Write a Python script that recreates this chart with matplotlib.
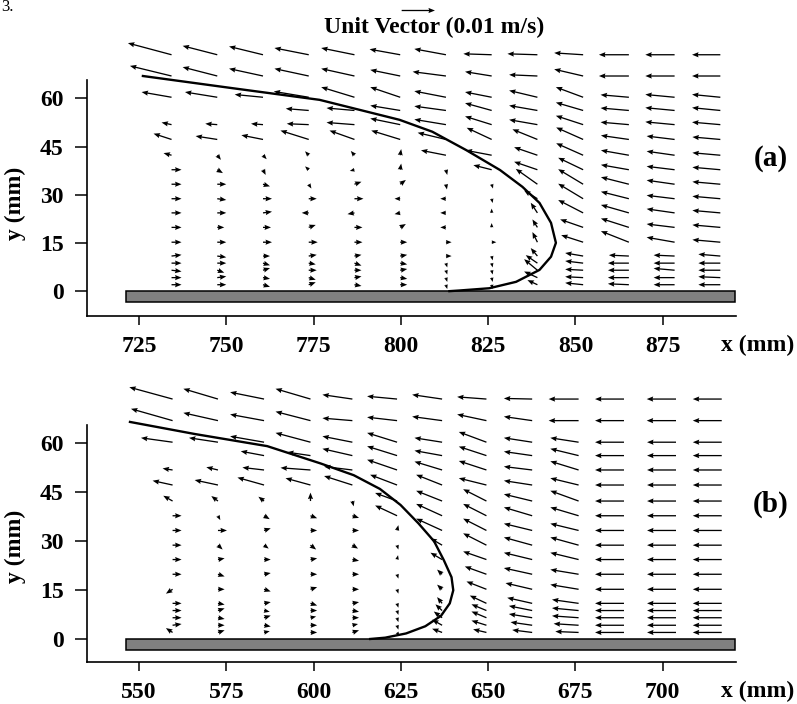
import numpy as np
import matplotlib
matplotlib.use("Agg")
import matplotlib.pyplot as plt
from matplotlib.patches import Rectangle

nan = np.nan

# measurement rows (mm above the wall), top to bottom
rows_y = [73.5, 66.9, 60.3, 56.2, 51.8, 47.2, 42.3, 37.8, 33.3, 28.8, 24.4,
          19.9, 15.3, 11.0, 8.8, 6.6, 4.3, 2.1]

# ---- panel (a) ---- velocities in mm/s
xa = [734.3, 747.4, 760.5, 773.6, 786.7, 799.8, 812.9, 826.0, 839.1, 852.2, 865.3, 878.4, 891.5]
ua = [
    [-13.1, -10.4, -10.2, -10.3, -10.0, -9.2, -9.5, -8.5, -9.0, -8.7, -9.0, -8.8, -8.5],
    [-12.5, -10.4, -10.2, -10.3, -10.0, -9.0, -10.0, -8.0, -8.5, -8.7, -9.0, -8.8, -8.5],
    [-9.0, -9.7, -8.5, -10.5, -10.0, -9.0, -9.5, -8.0, -8.5, -8.2, -8.5, -8.8, -8.5],
    [nan, nan, nan, -6.9, -8.4, -9.0, -9.5, -8.0, -8.5, -8.2, -8.5, -8.8, -8.5],
    [-3.0, -3.6, -3.6, -6.6, -8.4, -9.0, -9.5, -8.0, -8.5, -8.2, -8.5, -8.8, -8.5],
    [-5.4, -6.5, -6.5, -8.5, -7.5, -8.7, -8.5, -7.5, -7.5, -8.1, -8.4, -8.4, -8.4],
    [-2.4, 1.1, 1.1, -1.1, -1.1, 0.3, -7.5, -7.8, -7.0, -8.1, -8.4, -8.4, -8.4],
    [3.0, 1.7, 0.8, -1.1, -1.4, 0.3, 0.4, -5.5, -7.0, -7.5, -8.4, -8.4, -8.4],
    [3.0, 2.7, 2.1, 0.8, 2.1, 1.7, 0.3, 0.4, -6.5, -7.5, -8.4, -8.4, -8.4],
    [3.0, 2.7, 2.7, 2.4, 2.7, -1.7, -1.7, 0.3, -4.0, -7.5, -8.4, -8.4, -8.4],
    [3.0, 2.7, 2.7, -2.1, -2.1, -1.7, -1.7, 0.0, -2.0, -7.5, -8.4, -8.4, -8.4],
    [3.0, 2.1, 2.4, 2.1, 2.4, 1.7, -1.7, 0.0, -1.5, -6.9, -8.4, -8.4, -8.4],
    [3.0, 2.7, 2.7, 2.7, 2.4, 2.1, 1.7, 1.4, -1.5, -6.6, -8.4, -8.4, -8.4],
    [3.0, 2.7, 2.1, 2.4, 2.1, 2.1, 1.7, 0.3, -2.0, -5.4, -6.0, -6.3, -6.6],
    [3.0, 2.7, 2.1, 2.1, 2.1, 2.1, 0.4, 0.3, -3.5, -5.4, -6.3, -6.3, -6.6],
    [3.0, 2.1, 2.1, 2.4, 2.1, 2.1, 0.4, 0.3, -4.0, -5.4, -6.3, -6.3, -6.6],
    [3.0, 2.7, 2.1, 2.1, 2.1, 2.1, 0.4, 0.3, -4.0, -5.4, -6.3, -6.3, -6.6],
    [3.0, 2.7, 2.1, 2.1, 2.1, 2.1, 0.4, 0.3, -3.0, -5.4, -6.3, -6.3, -6.6],
]
va = [
    [3.8, 2.9, 2.7, 2.2, 2.2, 1.8, 1.9, 0.3, 0.3, 0.6, 0.0, 0.0, 0.0],
    [3.3, 2.9, 2.4, 2.4, 2.4, 2.0, 1.4, 1.4, 0.4, 2.2, 0.0, 0.0, 0.0],
    [1.7, 1.7, 0.9, 1.9, 3.3, 3.3, 2.0, 1.7, 2.2, 3.3, 0.8, 0.9, 0.9],
    [nan, nan, nan, 0.6, 0.8, 1.6, 1.4, 2.4, 1.6, 2.6, 0.8, 0.9, 0.9],
    [0.7, 0.3, 0.3, 0.3, 0.7, 2.0, 1.7, 2.7, 1.6, 2.9, 0.8, 0.9, 0.8],
    [1.9, 1.1, 1.4, 2.9, 2.9, 2.9, 2.2, 3.8, 3.3, 3.9, 1.3, 1.1, 0.8],
    [0.7, -1.5, -1.3, 1.3, 1.4, 2.0, 1.6, 1.6, 2.6, 3.9, 1.6, 1.3, 0.8],
    [0.0, -1.1, -1.7, 1.1, -0.4, 2.0, -1.7, 1.5, 2.6, 3.9, 1.6, 1.1, 0.8],
    [0.0, 0.0, -0.7, -1.4, 0.8, 1.4, -1.7, -1.4, 5.0, 4.9, 2.3, 1.3, 0.8],
    [0.0, -0.4, 0.0, 0.0, 0.0, 0.0, 0.0, -1.4, 2.7, 4.9, 2.3, 1.1, 0.8],
    [0.0, 0.0, 0.4, 0.0, -0.4, -0.4, 0.0, 1.4, 3.3, 4.2, 2.6, 1.3, 0.8],
    [0.0, 0.0, 0.0, 0.8, 0.0, 1.1, 0.0, 1.4, 2.6, 2.6, 2.9, 1.1, 0.8],
    [0.0, 0.0, 0.0, 0.0, 0.0, 0.0, 0.0, 0.0, 3.3, 2.3, 3.6, 1.6, 0.8],
    [0.4, -0.4, 0.0, 0.4, 0.4, 0.4, 0.0, -1.4, 2.6, 1.0, 0.3, 0.3, 0.6],
    [0.0, 0.0, -0.7, -0.4, -0.8, -0.4, -1.4, -1.4, 2.6, 0.7, 0.0, 0.0, 0.0],
    [-0.4, -0.8, 0.7, 0.0, 0.0, 0.4, -1.4, -1.4, 3.6, 0.3, 0.0, 0.6, 0.0],
    [0.0, 0.4, -0.4, -0.7, 0.4, -0.4, -1.4, -1.4, 2.0, 0.3, 0.0, 0.0, 0.3],
    [0.0, 0.0, -0.7, 0.8, -0.4, 0.0, -1.4, -1.4, 1.5, 0.6, 0.3, 0.0, 0.0],
]
curve_ax = [726.1, 751.9, 776.7, 799.6, 809.0, 818.7, 828.4, 834.8, 839.7, 843.0,
            844.4, 843.0, 839.7, 833.0, 825.3, 816.7, 813.9]
curve_ay = [66.9, 63.1, 59.5, 53.3, 49.6, 43.9, 37.7, 32.5, 27.5, 21.3,
            15.1, 10.8, 6.7, 3.0, 1.0, 0.3, 0.1]
xticks_a = [725, 750, 775, 800, 825, 850, 875]

# ---- panel (b) ----
xb = [559.6, 572.6, 585.8, 599.1, 611.1, 623.9, 636.8, 649.5, 662.6, 675.9, 688.9, 703.8, 716.9]
ub = [
    [-13.0, -10.4, -10.2, -10.5, -9.0, -9.0, -9.0, -8.8, -8.5, -9.0, -8.7, -8.8, -8.7],
    [-12.5, -10.4, -10.2, -10.5, -9.0, -9.0, -9.0, -8.8, -8.5, -9.0, -8.7, -8.8, -8.7],
    [-9.5, -8.7, -10.2, -10.5, -9.0, -9.0, -8.3, -8.3, -8.5, -8.5, -8.7, -8.7, -8.7],
    [nan, nan, -7.0, -7.0, -9.0, -9.0, -8.3, -8.3, -8.5, -8.5, -8.7, -8.7, -8.7],
    [-3.0, -3.5, -6.5, -9.0, -8.5, -9.0, -8.3, -8.3, -8.5, -8.5, -8.7, -8.7, -8.7],
    [-6.0, -7.0, -8.0, -7.5, -8.5, -8.1, -7.8, -8.3, -8.5, -8.5, -8.7, -8.7, -8.7],
    [-2.8, -2.0, -1.7, 0.0, 0.4, -6.6, -7.8, -7.0, -8.5, -8.5, -8.7, -8.7, -8.7],
    [2.7, 0.7, 1.7, 2.0, 2.0, -6.6, -7.8, -7.0, -8.5, -8.5, -8.7, -8.7, -8.7],
    [2.7, 2.7, 2.0, 2.0, 2.0, 0.4, -7.8, -7.0, -8.5, -8.5, -8.7, -8.7, -8.7],
    [2.7, 1.4, 1.4, 1.7, 1.7, 0.4, -3.5, -7.0, -8.5, -8.5, -8.7, -8.7, -8.7],
    [2.7, 2.0, 2.0, 2.0, 2.0, 0.3, -3.5, -7.0, -8.5, -8.5, -8.7, -8.7, -8.7],
    [2.7, 2.0, 2.0, 2.0, 2.0, 0.4, -1.5, -6.5, -8.5, -8.5, -8.7, -8.7, -8.7],
    [-2.0, 2.0, 2.0, 2.0, 2.0, 0.4, -1.5, -6.0, -8.0, -8.5, -8.7, -8.7, -8.7],
    [2.7, 2.0, 2.0, 2.0, 2.0, 0.4, -1.5, -5.0, -7.5, -8.0, -8.7, -8.7, -8.7],
    [2.7, 2.0, 1.7, 2.0, 2.0, 0.4, -2.0, -4.5, -7.0, -8.0, -8.7, -8.7, -8.7],
    [2.7, 2.0, 2.0, 1.7, 2.0, 0.4, -2.5, -4.5, -7.0, -8.0, -8.7, -8.7, -8.7],
    [2.7, 2.0, 2.0, 2.0, 1.7, 0.4, -3.0, -4.5, -6.5, -7.5, -8.7, -8.7, -8.7],
    [-2.0, 2.0, 1.7, 2.0, 2.0, 0.7, -3.0, -4.0, -6.0, -7.0, -8.7, -8.7, -8.7],
]
vb = [
    [3.8, 3.3, 2.2, 3.3, 1.4, 0.9, 1.4, 0.7, 0.2, 0.0, 0.0, 0.0, 0.0],
    [3.8, 2.5, 2.0, 2.9, 0.8, 1.1, 1.3, 2.0, 1.3, 0.0, 0.0, 0.0, 0.0],
    [1.4, 1.4, 1.9, 3.0, 1.9, 3.0, 1.4, 3.3, 1.4, 1.4, 0.0, 0.0, 0.0],
    [nan, nan, 1.4, 1.1, 2.2, 3.0, 1.6, 2.9, 1.3, 2.2, 0.0, 0.0, 0.0],
    [0.5, 0.9, 0.8, 0.7, 1.1, 3.3, 2.7, 2.9, 1.1, 2.8, 0.0, 0.0, 0.0],
    [1.4, 1.6, 2.4, 2.2, 2.9, 3.3, 3.3, 2.2, 1.4, 2.2, 0.0, 0.0, 0.0],
    [1.7, 1.6, 1.4, 2.7, -1.7, 2.6, 3.3, 3.8, 2.2, 3.3, 0.0, 0.0, 0.0],
    [0.0, -1.4, -1.1, -0.8, -0.7, 3.3, 3.8, 3.8, 2.7, 2.7, 0.0, 0.0, 0.0],
    [0.0, 0.0, 0.7, 0.0, 0.0, 1.7, 3.8, 3.8, 2.2, 2.2, 0.0, 0.0, 0.0],
    [0.0, -1.4, -1.1, -1.4, -1.1, -1.4, 2.2, 3.8, 2.5, 2.5, 0.0, 0.0, 0.0],
    [0.0, 0.4, 0.0, 0.4, -0.4, 1.4, 2.2, 2.6, 2.2, 2.2, 0.0, 0.0, 0.0],
    [0.0, -0.7, 0.4, 0.0, 0.0, -1.4, 1.5, 2.5, 2.0, 1.5, 0.0, 0.0, 0.0],
    [-1.4, 0.0, -0.7, 0.7, 0.0, -1.4, 1.5, 2.5, 2.0, 1.5, 0.0, 0.0, 0.0],
    [0.0, -0.4, 0.4, -0.7, 0.4, -1.4, 2.0, 2.5, 1.8, 1.2, 0.0, 0.0, 0.0],
    [0.0, 0.7, -0.4, 0.0, -0.4, -1.4, 2.0, 2.0, 1.5, 0.8, 0.0, 0.0, 0.0],
    [0.0, -0.4, 0.7, 0.4, 0.0, -1.4, 2.0, 2.0, 1.2, 0.6, 0.0, 0.0, 0.0],
    [0.4, 0.0, -0.4, 0.0, 0.4, -1.4, 1.8, 1.5, 1.0, 0.5, 0.0, 0.0, 0.0],
    [1.4, 0.7, 0.4, 0.0, 0.7, -1.1, 1.2, 1.0, 0.8, 0.3, 0.0, 0.0, 0.0],
]
curve_bx = [547.4, 566.0, 586.7, 602.0, 611.5, 619.0, 624.9, 630.0, 634.5, 637.3,
            639.5, 640.0, 639.0, 636.5, 632.0, 626.5, 620.5, 616.2]
curve_by = [66.5, 62.8, 59.1, 53.8, 50.2, 46.0, 41.1, 35.5, 30.0, 24.2,
            19.0, 15.0, 11.0, 7.2, 4.0, 1.8, 0.5, 0.1]
xticks_b = [550, 575, 600, 625, 650, 675, 700]
yticks = [0, 15, 30, 45, 60]

plt.rcParams['font.family'] = ['Liberation Serif', 'DejaVu Serif']
plt.rcParams['font.weight'] = 'bold'
FS = 17

fig = plt.figure(figsize=(7.97, 7.04), dpi=100)
W, H = 797.0, 704.0


def panel(rect_px, xlim, ylim, xs, U, V, cx, cy, wall, xticks, tag, spine_top, ylab_y):
    left, right, top, bottom = rect_px
    ax = fig.add_axes([left / W, 1 - bottom / H, (right - left) / W, (bottom - top) / H])
    X, Y = np.meshgrid(xs, rows_y)
    q = ax.quiver(X, Y, np.ma.masked_invalid(U), np.ma.masked_invalid(V),
                  angles='xy', scale_units='xy', scale=1.049, units='dots',
                  width=1.3, headwidth=4.0, headlength=5.0, headaxislength=4.5,
                  color='k', zorder=3)
    ax.plot(cx, cy, color='k', lw=1.7, zorder=4)
    ax.add_patch(Rectangle((wall[0], -3.3), wall[1] - wall[0], 3.3,
                           facecolor='#808080', edgecolor='k', lw=1.1, zorder=2))
    ax.set_xlim(*xlim)
    ax.set_ylim(*ylim)
    ax.set_xticks(xticks)
    ax.set_yticks(yticks)
    for s in ['top', 'right']:
        ax.spines[s].set_visible(False)
    for s in ['left', 'bottom']:
        ax.spines[s].set_linewidth(1.2)
    ax.spines['left'].set_bounds(ylim[0], spine_top)
    ax.tick_params(axis='x', length=6.5, width=1.1, pad=8, labelsize=FS)
    ax.tick_params(axis='y', length=8.6, width=1.1, pad=8, labelsize=FS)
    ax.text(-0.1105, ylab_y, 'y (mm)', transform=ax.transAxes, rotation=90,
            ha='center', va='center', fontsize=FS, fontweight='bold')
    ax.text(1.0336, -0.106, 'x (mm)', transform=ax.transAxes, ha='center',
            va='center', fontsize=FS, fontweight='bold')
    ax.text(1.054, 0.567, tag, transform=ax.transAxes, ha='center', va='center',
            fontsize=21, fontweight='bold')
    return ax, q


ax_a, q_a = panel((86.7, 735.7, 38.0, 315.7), (710.0, 895.9), (-7.52, 78.7),
                  xa, ua, va, curve_ax, curve_ay, (721.4, 895.6), xticks_a, '(a)',
                  65.8, 0.406)
ax_b, q_b = panel((86.7, 735.7, 385.0, 661.7), (535.0, 720.9), (-6.85, 77.8),
                  xb, ub, vb, curve_bx, curve_by, (546.4, 720.6), xticks_b, '(b)',
                  65.5, 0.416)

ax_a.quiverkey(q_a, 418.3 / W, 1 - 10.5 / H, 10, '', coordinates='figure', labelpos='S')
fig.text(434 / W, 1 - 33.5 / H, 'Unit Vector (0.01 m/s)', ha='center', va='baseline',
         fontsize=FS, fontweight='bold')
fig.text(1 / W, 1 - 11 / H, '3.', ha='left', va='baseline', fontsize=12,
         fontweight='normal')

fig.savefig('out.png', dpi=100)
